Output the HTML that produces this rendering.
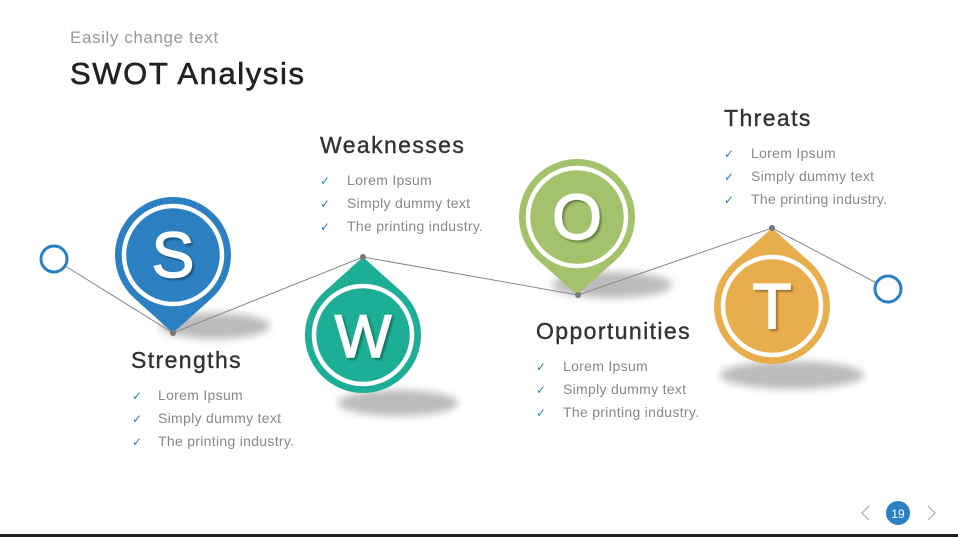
<!DOCTYPE html>
<html><head><meta charset="utf-8"><style>
html,body{margin:0;padding:0;background:#fff;}
body{width:958px;height:537px;overflow:hidden;position:relative;font-family:"Liberation Sans",sans-serif;}
</style></head><body>
<svg width="958" height="537" viewBox="0 0 958 537" xmlns="http://www.w3.org/2000/svg" style="position:absolute;left:0;top:0">
<defs>
<filter id="blur" x="-50%" y="-100%" width="200%" height="300%"><feGaussianBlur stdDeviation="4"/></filter>
<filter id="ts"><feDropShadow dx="2" dy="2" stdDeviation="1" flood-color="#000" flood-opacity="0.35"/></filter>
<path id="pinDown" d="M0 78 L38.8 43.1 A58 58 0 1 0 -38.8 43.1 Z"/>
</defs>
<rect x="0" y="534" width="958" height="3" fill="#222"/>
<text x="70" y="43" font-size="17" fill="#999" letter-spacing="0.6">Easily change text</text>
<text x="70" y="84" font-size="31" fill="#222" letter-spacing="1.6" stroke="#222" stroke-width="0.6">SWOT Analysis</text>

<!-- shadows -->
<ellipse cx="215" cy="326" rx="55" ry="13" fill="#bbb" filter="url(#blur)"/>
<ellipse cx="398" cy="403" rx="60" ry="13" fill="#bbb" filter="url(#blur)"/>
<ellipse cx="612" cy="285" rx="60" ry="13" fill="#bbb" filter="url(#blur)"/>
<ellipse cx="792" cy="375" rx="72" ry="14" fill="#bbb" filter="url(#blur)"/>

<polyline points="54,259 173,333 363,257 578,295 772,228 888,289" fill="none" stroke="#888" stroke-width="1"/>

<!-- S -->
<g transform="translate(173,255)">
<use href="#pinDown" fill="#2c80c1"/>
<circle r="49" fill="none" stroke="#fff" stroke-width="4.5"/>
<text y="22" text-anchor="middle" font-size="64" fill="#fff" stroke="#fff" stroke-width="1.5" filter="url(#ts)">S</text>
</g>
<!-- W -->
<g transform="translate(363,335)">
<use href="#pinDown" fill="#1dae95" transform="rotate(180)"/>
<circle r="49" fill="none" stroke="#fff" stroke-width="4.5"/>
<text y="22" text-anchor="middle" font-size="60" fill="#fff" stroke="#fff" stroke-width="1.5" filter="url(#ts)">W</text>
</g>
<!-- O -->
<g transform="translate(577,217)">
<use href="#pinDown" fill="#a4c16c"/>
<circle r="49" fill="none" stroke="#fff" stroke-width="4.5"/>
<text y="22" text-anchor="middle" font-size="64" fill="#fff" stroke="#fff" stroke-width="1.5" filter="url(#ts)">O</text>
</g>
<!-- T -->
<g transform="translate(772,306)">
<use href="#pinDown" fill="#e8ae4e" transform="rotate(180)"/>
<circle r="49" fill="none" stroke="#fff" stroke-width="4.5"/>
<text y="22" text-anchor="middle" font-size="64" fill="#fff" stroke="#fff" stroke-width="1.5" filter="url(#ts)">T</text>
</g>

<circle cx="173" cy="333" r="3" fill="#777"/>
<circle cx="363" cy="257" r="3" fill="#777"/>
<circle cx="578" cy="295" r="3" fill="#777"/>
<circle cx="772" cy="228" r="3" fill="#777"/>

<circle cx="54" cy="259" r="13" fill="#fff" stroke="#2c80c1" stroke-width="3"/>
<circle cx="888" cy="289" r="13" fill="#fff" stroke="#2c80c1" stroke-width="3"/>

<g font-size="23" fill="#333" letter-spacing="1.4" stroke="#333" stroke-width="0.4">
<text x="131" y="368">Strengths</text>
<text x="320" y="153">Weaknesses</text>
<text x="536" y="339">Opportunities</text>
<text x="724" y="126">Threats</text>
</g>
<g font-size="14" fill="#888" letter-spacing="0.3">
<text x="158" y="400">Lorem Ipsum</text><text x="158" y="423">Simply dummy text</text><text x="158" y="446">The printing industry.</text>
<text x="347" y="185">Lorem Ipsum</text><text x="347" y="208">Simply dummy text</text><text x="347" y="231">The printing industry.</text>
<text x="563" y="371">Lorem Ipsum</text><text x="563" y="394">Simply dummy text</text><text x="563" y="417">The printing industry.</text>
<text x="751" y="158">Lorem Ipsum</text><text x="751" y="181">Simply dummy text</text><text x="751" y="204">The printing industry.</text>
</g>
<g font-size="12" fill="#2c80c1">
<text x="132" y="400">✓</text><text x="132" y="423">✓</text><text x="132" y="446">✓</text>
<text x="320" y="185">✓</text><text x="320" y="208">✓</text><text x="320" y="231">✓</text>
<text x="536" y="371">✓</text><text x="536" y="394">✓</text><text x="536" y="417">✓</text>
<text x="724" y="158">✓</text><text x="724" y="181">✓</text><text x="724" y="204">✓</text>
</g>

<polyline points="869,506 862,513 869,520" fill="none" stroke="#bbb" stroke-width="1.5"/>
<polyline points="928,506 935,513 928,520" fill="none" stroke="#bbb" stroke-width="1.5"/>
<circle cx="898" cy="513" r="12" fill="#2c80c1"/>
<text x="898" y="518" text-anchor="middle" font-size="12" fill="#fff">19</text>
</svg>
</body></html>
